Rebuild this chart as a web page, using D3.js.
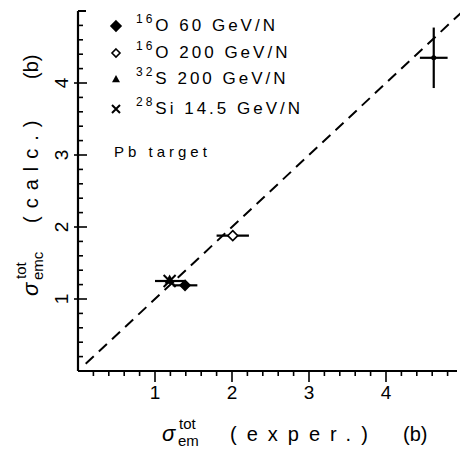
<!DOCTYPE html>
<html>
<head>
<meta charset="utf-8">
<script src="https://cdn.jsdelivr.net/npm/d3@7"></script>
<style>
  body { margin: 0; background: #fff; }
  text { font-family: "Liberation Sans", Arial, sans-serif; fill: #000; }
</style>
</head>
<body>
<div id="chart"></div>
<script>
// data (barns)
const xExper = [1.39, 2.01, 1.19, 4.62];
const xErr   = [0.16, 0.21, 0.19, 0.18];
const yCalc  = [1.19, 1.88, 1.25, 4.35];
const yErr   = [0.03, 0.06, 0.04, 0.42];
const markKinds = ["diamondFilled", "diamondOpen", "cross", "dot"];
// triangle hidden under the cross near (1.2, 1.27)
const extraX = [1.19];
const extraY = [1.27];
const extraSym = ["triangle"];
const symbols = ["diamondFilled", "diamondOpen", "triangle", "cross"];
const legendLabels = [
  ["16", "O 60 GeV/N"],
  ["16", "O 200 GeV/N"],
  ["32", "S 200 GeV/N"],
  ["28", "Si 14.5 GeV/N"]
];
const xTicks = [1, 2, 3, 4];
const yTicks = [1, 2, 3, 4];

const width = 460, height = 453;
const margin = {left: 78, top: 11, right: 0, bottom: 81};

const svg = d3.select("#chart").append("svg")
  .attr("width", width).attr("height", height);

const x = d3.scaleLinear().domain([0, 5]).range([margin.left, margin.left + 385]);
const y = d3.scaleLinear().domain([0, 5]).range([height - margin.bottom - 1, margin.top]);

const axis = svg.append("g").attr("class", "axis");

// axis lines
axis.append("line")
  .attr("x1", x(0)).attr("x2", x(0)).attr("y1", y(5)).attr("y2", y(0))
  .attr("stroke", "#000").attr("stroke-width", 2.2);
axis.append("line")
  .attr("x1", x(0)).attr("x2", 457).attr("y1", y(0)).attr("y2", y(0))
  .attr("stroke", "#000").attr("stroke-width", 2.2);
axis.append("line")
  .attr("x1", x(0)).attr("x2", x(0) + 8).attr("y1", y(5)).attr("y2", y(5))
  .attr("stroke", "#000").attr("stroke-width", 2);

// minor ticks every 0.2, longer at whole numbers
const minor = d3.range(0, 25).map(i => i * 0.2);
const isMajor = d => Math.abs(d - Math.round(d)) < 1e-6;
axis.selectAll(".xminor").data(minor.filter(d => d > 0))
  .join("line")
  .attr("x1", d => x(d)).attr("x2", d => x(d))
  .attr("y1", y(0)).attr("y2", d => isMajor(d) ? y(0) + 11 : y(0) + 5)
  .attr("stroke", "#000").attr("stroke-width", 1.6);
axis.selectAll(".yminor").data(minor.filter(d => d > 0))
  .join("line")
  .attr("y1", d => y(d)).attr("y2", d => y(d))
  .attr("x1", d => isMajor(d) ? x(0) - 4 : x(0))
  .attr("x2", d => isMajor(d) ? x(0) + 9 : x(0) + 5)
  .attr("stroke", "#000").attr("stroke-width", 1.6);

// tick labels
axis.selectAll(".xlab").data(xTicks).join("text")
  .attr("x", d => x(d)).attr("y", y(0) + 28)
  .attr("text-anchor", "middle").attr("font-size", 19)
  .text(d => d);
axis.selectAll(".ylab").data(yTicks).join("text")
  .attr("transform", d => `translate(${x(0) - 10},${y(d)}) rotate(-90)`)
  .attr("text-anchor", "middle").attr("font-size", 19)
  .text(d => d);

// x axis title
const xl = svg.append("g").attr("transform", "translate(162,441)");
xl.append("text").attr("font-size", 22).attr("font-style", "italic").text("σ");
xl.append("text").attr("x", 17).attr("y", -12).attr("font-size", 15).text("tot");
xl.append("text").attr("x", 16).attr("y", 5).attr("font-size", 15).text("em");
xl.append("text").attr("x", 68).attr("font-size", 20).attr("letter-spacing", 10).text("(exper.)");
xl.append("text").attr("x", 241).attr("font-size", 20).text("(b)");

// y axis title
const yl = svg.append("g").attr("transform", "translate(38,296) rotate(-90)");
yl.append("text").attr("font-size", 22).attr("font-style", "italic").text("σ");
yl.append("text").attr("x", 17).attr("y", -12).attr("font-size", 15).text("tot");
yl.append("text").attr("x", 16).attr("y", 5).attr("font-size", 15).text("emc");
yl.append("text").attr("x", 73).attr("font-size", 20).attr("letter-spacing", 8).text("(calc.)");
yl.append("text").attr("x", 217).attr("font-size", 20).text("(b)");

// dashed y = x line
svg.append("line")
  .attr("x1", x(0.1)).attr("y1", y(0.1)).attr("x2", x(5)).attr("y2", y(5))
  .attr("stroke", "#000").attr("stroke-width", 2)
  .attr("stroke-dasharray", "11,7");

function drawSymbol(g, kind, cx, cy, s) {
  if (kind === "diamondFilled" || kind === "diamondOpen") {
    g.append("path")
      .attr("d", `M${cx},${cy - s}L${cx + s},${cy}L${cx},${cy + s}L${cx - s},${cy}Z`)
      .attr("fill", kind === "diamondFilled" ? "#000" : "#fff")
      .attr("stroke", "#000").attr("stroke-width", 1.6);
  } else if (kind === "triangle") {
    g.append("path")
      .attr("d", `M${cx},${cy - s}L${cx + s},${cy + s * 0.8}L${cx - s},${cy + s * 0.8}Z`)
      .attr("fill", "#000");
  } else if (kind === "cross") {
    g.append("path")
      .attr("d", `M${cx - s},${cy - s}L${cx + s},${cy + s}M${cx - s},${cy + s}L${cx + s},${cy - s}`)
      .attr("stroke", "#000").attr("stroke-width", 2);
  } else if (kind === "dot") {
    g.append("circle").attr("cx", cx).attr("cy", cy).attr("r", s).attr("fill", "#000");
  }
}

// data points with error bars
const content = svg.append("g").attr("class", "content");
xExper.forEach((d, i) => {
  const g = content.append("g");
  g.append("line")
    .attr("x1", x(d - xErr[i])).attr("x2", x(d + xErr[i]))
    .attr("y1", y(yCalc[i])).attr("y2", y(yCalc[i]))
    .attr("stroke", "#000").attr("stroke-width", 2.2);
  g.append("line")
    .attr("x1", x(d)).attr("x2", x(d))
    .attr("y1", y(yCalc[i] - yErr[i])).attr("y2", y(yCalc[i] + yErr[i]))
    .attr("stroke", "#000").attr("stroke-width", 2.2);
  drawSymbol(g, markKinds[i], x(d), y(yCalc[i]), i === 3 ? 2.5 : (i === 2 ? 6 : 5));
});
extraX.forEach((d, i) => {
  drawSymbol(content.append("g"), extraSym[i], x(d), y(extraY[i]), 5);
});

// legend
const legend = svg.append("g").attr("class", "legend");
const rowY = [31, 58, 84, 114];
legendLabels.forEach((l, i) => {
  drawSymbol(legend, symbols[i], 116, rowY[i] - 5, i === 0 ? 5 : 4);
  const t = legend.append("text").attr("x", 136).attr("y", rowY[i])
    .attr("font-size", 17).attr("letter-spacing", 3);
  t.append("tspan").attr("font-size", 12).attr("dy", -8).text(l[0]);
  t.append("tspan").attr("dy", 8).text(l[1]);
});
legend.append("text").attr("x", 114).attr("y", 157)
  .attr("font-size", 15).attr("letter-spacing", 4)
  .text("Pb target");
</script>
</body>
</html>
